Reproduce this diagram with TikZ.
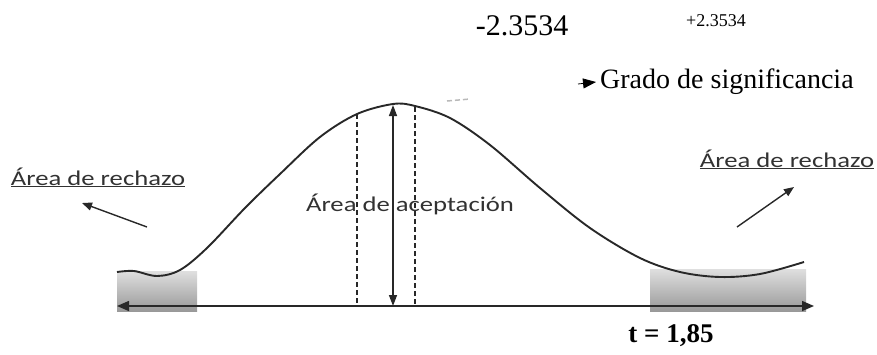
\documentclass[tikz,border=0pt]{standalone}
\usepackage{fontspec}
\setmainfont{Liberation Serif}
\newfontfamily\carlito{Carlito}
\usepackage{tikz}
\usetikzlibrary{arrows.meta, positioning}
\definecolor{corTexto}{RGB}{50, 50, 50}
\definecolor{corCurva}{RGB}{40, 40, 40}
\newcommand{\largo}[1]{\scalebox{1.27}[1]{#1}}

\begin{document}
\begin{tikzpicture}[
    x=1pt, y=-1pt,
    curva/.style={draw=corCurva, line width=1.9pt},
    eixo/.style={line width=1.5pt, draw=corCurva,
        {Triangle[length=12pt,width=10pt]}-{Triangle[length=12pt,width=10pt]}},
    zona/.style={top color=gray!25, bottom color=gray!80},
    rotulo/.style={font=\carlito\fontsize{21}{23}\selectfont, text=corTexto, inner sep=0pt},
    seta/.style={line width=1.4pt, draw=corCurva, -{Triangle[length=10pt,width=8pt]}},
    limite/.style={line width=1.3pt, draw=corCurva, dash pattern=on 5pt off 3pt},
    num/.style={inner sep=0pt}
]
\useasboundingbox (0,0) rectangle (877,354);

% zonas de rechazo
\shade[zona] (117,271) rectangle (197,311);
\shade[zona] (650,269) rectangle (806,311);

% curva
\draw[curva] plot[smooth, tension=0.55] coordinates {
    (117,272) (134,271) (157,276) (180,270) (207,248) (245,208)
    (280,174) (320,137) (357,114) (393,104) (415,106) (450,118)
    (490,145) (540,188) (590,228) (640,258) (680,272) (720,277)
    (760,274) (804,262)};

% eixo
\coordinate (ejeI) at (117,306);
\coordinate (ejeD) at (814,306);
\draw[eixo] (ejeI) -- (ejeD);

% limites e altura
\coordinate (topoE) at (357,114);
\coordinate (baseE) at (357,306);
\coordinate (topoD) at (415,107);
\coordinate (baseD) at (415,306);
\coordinate (cima) at (393,105);
\coordinate (base) at (393,306);
\draw[limite] (topoE) -- (baseE);
\draw[limite] (topoD) -- (baseD);
\draw[line width=1.4pt, draw=corCurva,
    {Triangle[length=11pt,width=8pt]}-{Triangle[length=11pt,width=8pt]}] (cima) -- (base);
\draw[gray!55, line width=1.5pt, dash pattern=on 5pt off 3pt] (447,101) -- (470,99);

% valores
\node[num, font=\fontsize{30}{32}\selectfont] (menos) at (522,26) {-2.3534};
\node[num, font=\fontsize{18}{20}\selectfont] (mais) at (716,21) {+2.3534};
\node[num, font=\fontsize{28}{30}\selectfont, anchor=west] (grado) at (600,82) {Grado de significancia};
\coordinate (gradoSeta) at (578,84);
\draw[line width=0.8pt, draw=black, -{Triangle[length=13pt,width=10pt]}] (gradoSeta) -- ([xshift=-4pt]grado.west);
\node[num, font=\bfseries\fontsize{27}{29}\selectfont] (tval) at (671,336) {t = 1,85};

% rotulos
\node[rotulo, anchor=base] (rechE) at (98,185) {\largo{\underline{Área de rechazo}}};
\node[rotulo, anchor=base] (rechD) at (787,167) {\largo{\underline{Área de rechazo}}};
\node[rotulo] (acept) at (410,204) {\largo{Área de aceptación}};

\coordinate (colaE) at (147,227);
\coordinate (puntaE) at (82,203);
\coordinate (colaD) at (737,227);
\coordinate (puntaD) at (794,187);
\draw[seta] (colaE) -- (puntaE);
\draw[seta] (colaD) -- (puntaD);

\end{tikzpicture}
\end{document}
